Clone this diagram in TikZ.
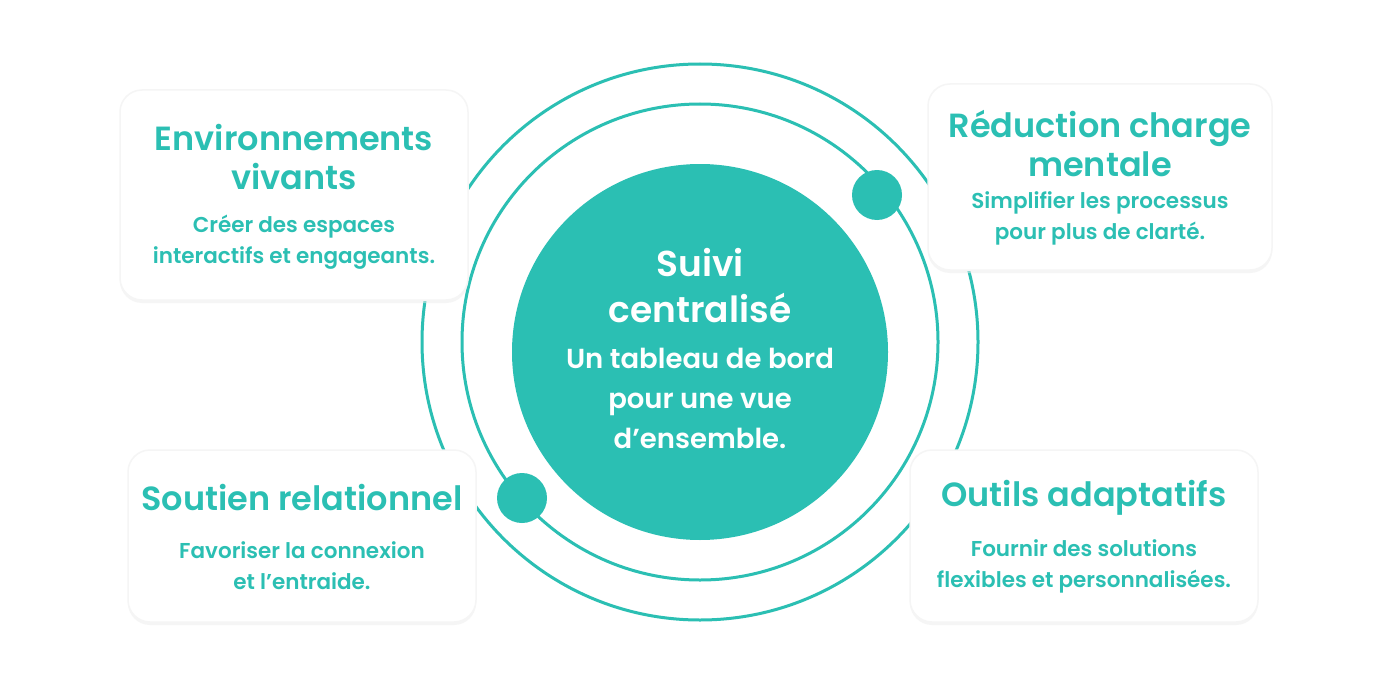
\documentclass[tikz,border=0pt]{standalone}
\usepackage{fontspec}
\setmainfont{Poppins}
\newfontfamily\semib{Poppins SemiBold}
\usetikzlibrary{shadows}
\definecolor{teal}{HTML}{2BBFB3}
\begin{document}
\begin{tikzpicture}[x=1pt,y=-1pt,
  card/.style={fill=white,draw=black!4,line width=1.5pt,rounded corners=22pt,drop shadow={shadow xshift=0pt,shadow yshift=-3pt,fill=black!7,opacity=0.5}},
  ttl/.style={text=teal,font=\semib\fontsize{33.5}{39}\selectfont,align=center},
  txt/.style={text=teal,font=\semib\fontsize{21.5}{31}\selectfont,align=center},
  ring/.style={draw=teal,line width=3pt}]
\useasboundingbox (0,0) rectangle (1392,682);
\fill[white] (0,0) rectangle (1392,682);
\draw[ring] (700,342) circle (278);
\draw[ring] (700,342) circle (238);
\fill[teal] (700,352) circle (188);
\fill[teal] (877,195) circle (25);
\fill[teal] (522,498) circle (25);
\node[card,minimum width=348pt,minimum height=210pt] (c1) at (294,195) {};
\node[card,minimum width=344pt,minimum height=186pt] (c2) at (1100,177) {};
\node[card,minimum width=348pt,minimum height=172pt] (c3) at (302,536) {};
\node[card,minimum width=348pt,minimum height=172pt] (c4) at (1084,536) {};
\node[ttl] (t1) at (294,157) {Environnements\\vivants};
\node[txt] (d1) at (294,242) {Créer des espaces\\interactifs et engageants.};
\node[ttl] (t2) at (1100,144) {Réduction charge\\mentale};
\node[txt] (d2) at (1100,218) {Simplifier les processus\\pour plus de clarté.};
\node[ttl] (t3) at (302,498) {Soutien relationnel};
\node[txt] (d3) at (302,566) {Favoriser la connexion\\et l’entraide.};
\node[ttl] (t4) at (1084,498) {Outils adaptatifs};
\node[txt] (d4) at (1084,566) {Fournir des solutions\\flexibles et personnalisées.};
\node[text=white,font=\semib\fontsize{36}{46}\selectfont,align=center] (m) at (700,286) {Suivi\\centralisé};
\node[text=white,font=\semib\fontsize{27.5}{40}\selectfont,align=center] (md) at (700,398) {Un tableau de bord\\pour une vue\\d’ensemble.};
\end{tikzpicture}
\end{document}
